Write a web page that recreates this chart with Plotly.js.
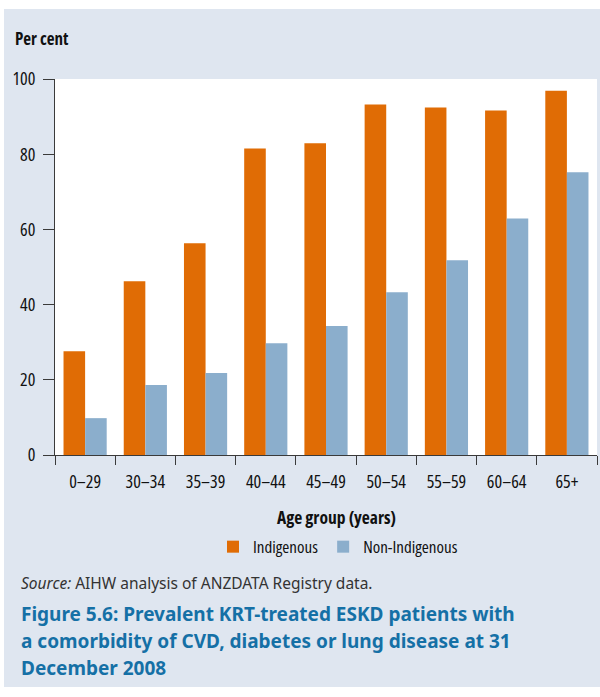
<!DOCTYPE html>
<html>
<head>
<meta charset="utf-8">
<script src="https://cdn.plot.ly/plotly-3.0.1.min.js"></script>
<style>
html,body{margin:0;padding:0;background:#ffffff;}
#chart{position:absolute;left:4px;top:9px;width:596px;height:678px;}
text[style*="Open Sans"], tspan[style*="Open Sans"] { font-stretch: condensed !important; }
</style>
</head>
<body>
<div id="chart"></div>
<script>
var categories = ["0\u201329","30\u201334","35\u201339","40\u201344","45\u201349","50\u201354","55\u201359","60\u201364","65+"];
var indigenous = [27.6, 46.2, 56.3, 81.5, 82.9, 93.2, 92.4, 91.6, 96.9];
var nonIndigenous = [9.8, 18.6, 21.8, 29.7, 34.3, 43.3, 51.8, 62.9, 75.2];
var yTicks = [0, 20, 40, 60, 80, 100];
var xTitle = "Age group (years)";
var yTitle = "Per cent";
var titleLines = [
  "Figure 5.6: Prevalent KRT-treated ESKD patients with",
  "a comorbidity of CVD, diabetes or lung disease at 31",
  "December 2008"
];

var narrow = '"Open Sans", sans-serif';
var plain = '"Noto Sans", sans-serif';

var traces = [
  {type:'bar', name:'Indigenous', x:categories, y:indigenous, marker:{color:'#E06C05'}, hoverinfo:'x+y'},
  {type:'bar', name:'Non-Indigenous', x:categories, y:nonIndigenous, marker:{color:'#8BAECC'}, hoverinfo:'x+y'}
];

var annotations = [
  {text:'<b>' + yTitle + '</b>', xref:'paper', yref:'paper', x:-0.0775, y:1.109, xanchor:'left', yanchor:'middle',
   showarrow:false, font:{family:narrow, size:17, color:'#111111'}},
  {text:'<b>' + xTitle + '</b>', xref:'paper', yref:'paper', x:0.520, y:-0.165, xanchor:'center', yanchor:'middle',
   showarrow:false, font:{family:narrow, size:17.5, color:'#111111'}},
  {text:'<i>Source:</i> AIHW analysis of ANZDATA Registry data.', xref:'paper', yref:'paper', x:-0.0664, y:-0.340,
   xanchor:'left', yanchor:'middle', showarrow:false, font:{family:plain, size:15.5, color:'#333333'}}
];
var titleY = [-0.4229, -0.4947, -0.5665];
titleLines.forEach(function(t, i){
  annotations.push({text:'<b>' + t + '</b>', xref:'paper', yref:'paper', x:-0.0664, y:titleY[i],
    xanchor:'left', yanchor:'middle', align:'left', showarrow:false,
    font:{family:plain, size:19, color:'#1570A6'}});
});

var layout = {
  width:596, height:678,
  margin:{l:51, r:3, t:70, b:232},
  paper_bgcolor:'#DFE6F0',
  plot_bgcolor:'#ffffff',
  barmode:'group', bargap:0.283, bargroupgap:0,
  font:{family:narrow, size:18, color:'#111111'},
  showlegend:true,
  legend:{orientation:'h', x:0.2915, xanchor:'left', y:-0.245, yanchor:'middle',
          font:{family:narrow, size:17, color:'#111111'}, bgcolor:'rgba(0,0,0,0)',
          itemwidth:30, tracegroupgap:0},
  xaxis:{type:'category', showline:true, linecolor:'#3a3a3a', linewidth:1,
         ticks:'outside', tickson:'boundaries', ticklen:9, tickcolor:'#3a3a3a',
         showgrid:false, zeroline:false, fixedrange:true, ticklabelstandoff:10,
         tickfont:{family:narrow, size:18, color:'#111111'}},
  yaxis:{range:[0,100], tickvals:yTicks, ticktext:yTicks.map(String), showline:true, linecolor:'#3a3a3a', linewidth:1,
         ticks:'outside', ticklen:11, tickcolor:'#3a3a3a', showgrid:false, zeroline:false, fixedrange:true,
         ticklabelstandoff:4,
         tickfont:{family:narrow, size:18, color:'#111111'}},
  annotations:annotations
};

Plotly.newPlot('chart', traces, layout, {displayModeBar:false, staticPlot:true});
</script>
</body>
</html>
